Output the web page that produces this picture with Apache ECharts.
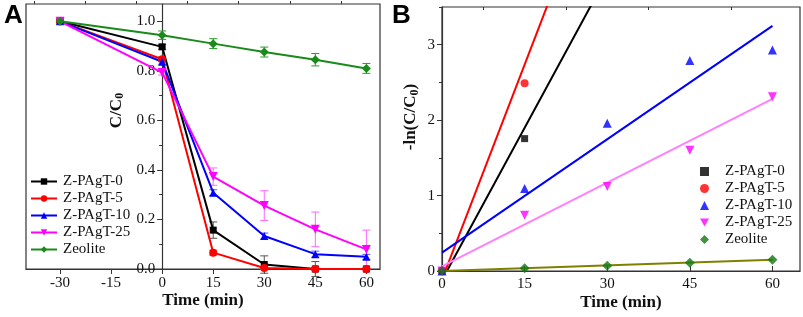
<!DOCTYPE html>
<html>
<head>
<meta charset="utf-8">
<script src="https://cdn.jsdelivr.net/npm/echarts@6/dist/echarts.min.js"></script>
<style>
  html, body { margin: 0; padding: 0; background: #fff; }
  #chart { width: 803px; height: 317px; }
</style>
</head>
<body>
<div id="chart"></div>
<script>
// panel A: C/C0 vs time
const timeA = [-30, 0, 15, 30, 45, 60];
const z0A = [1.0, 0.897, 0.157, 0.018, 0.0, 0.0];
const z5A = [1.0, 0.847, 0.066, 0.004, 0.0, 0.0];
const z10A = [1.0, 0.837, 0.308, 0.133, 0.06, 0.049];
const z25A = [1.0, 0.793, 0.373, 0.256, 0.16, 0.079];
const zeoA = [1.0, 0.944, 0.91, 0.876, 0.845, 0.81];
const z0Err = [0, 0.01, 0.033, 0.035, 0.03, 0];
const z5Err = [0, 0.01, 0.01, 0.005, 0.005, 0];
const z10Err = [0, 0.01, 0.012, 0.012, 0.012, 0.01];
const z25Err = [0, 0.01, 0.035, 0.06, 0.07, 0.078];
const zeoErr = [0.005, 0.017, 0.02, 0.02, 0.025, 0.02];
const xTicksA = [-30, -15, 0, 15, 30, 45, 60];
const xMinorA = [-37.5, -22.5, -7.5, 7.5, 22.5, 37.5, 52.5];
const yTicksA = [0, 0.2, 0.4, 0.6, 0.8, 1.0];
const yMinorA = [0.1, 0.3, 0.5, 0.7, 0.9];

// panel B: -ln(C/C0) vs time, with linear fits
const timeB = [0, 15, 30, 45, 60];
const z0B = [0, 1.755];
const z5B = [0, 2.49];
const z10B = [0, 1.095, 1.96, 2.79, 2.93];
const z25B = [0, 0.74, 1.12, 1.6, 2.31];
const zeoB = [0, 0.035, 0.07, 0.11, 0.15];
const fitSlope = [0.1346, 0.19, 0.0501, 0.037, 0.0025];
const fitIntercept = [-0.121, -0.114, 0.244, 0.062, 0.0];
const fitRange = [0, 60];
const xTicksB = [0, 15, 30, 45, 60];
const xMinorB = [7.5, 22.5, 37.5, 52.5];
const yTicksB = [0, 1, 2, 3];
const yMinorB = [0.5, 1.5, 2.5, 3.5];

const names = ['Z-PAgT-0', 'Z-PAgT-5', 'Z-PAgT-10', 'Z-PAgT-25', 'Zeolite'];
const serif = 'Liberation Serif';
const axisColor = '#333';
const invTri = 'path://M0,0 L10,0 L5,9 Z';

// grid A geometry, the y axis sits at time 0
const gridA = { left: 26, right: 423, top: 4, bottom: 48 };
const xRangeA = [-40, 64];
const widthA = 803 - gridA.left - gridA.right;
const yAxisShiftA = -widthA * (0 - xRangeA[0]) / (xRangeA[1] - xRangeA[0]);

const chart = echarts.init(document.getElementById('chart'));

function pairs(xs, ys) {
  return ys.map((y, i) => [xs[i], y]);
}

// error bars drawn as custom series
function errSeries(ys, errs, color) {
  return {
    type: 'custom',
    xAxisIndex: 0,
    yAxisIndex: 0,
    silent: true,
    z: 1,
    data: timeA.map((t, i) => [t, ys[i] - errs[i], ys[i] + errs[i]]),
    renderItem: function (params, api) {
      const lo = api.coord([api.value(0), api.value(1)]);
      const hi = api.coord([api.value(0), api.value(2)]);
      const w = 4;
      const style = { stroke: color, lineWidth: 1 };
      return {
        type: 'group',
        children: [
          { type: 'line', shape: { x1: hi[0], y1: hi[1], x2: lo[0], y2: lo[1] }, style: style },
          { type: 'line', shape: { x1: hi[0] - w, y1: hi[1], x2: hi[0] + w, y2: hi[1] }, style: style },
          { type: 'line', shape: { x1: lo[0] - w, y1: lo[1], x2: lo[0] + w, y2: lo[1] }, style: style }
        ]
      };
    }
  };
}

function lineA(name, ys, color, symbol, size) {
  return {
    name: name,
    type: 'line',
    xAxisIndex: 0,
    yAxisIndex: 0,
    data: pairs(timeA, ys),
    symbol: symbol,
    symbolSize: size,
    showAllSymbol: true,
    z: 3,
    lineStyle: { color: color, width: 2 },
    itemStyle: { color: color }
  };
}

function scatterB(name, ys, color, symbol, size) {
  return {
    name: 'B:' + name,
    type: 'scatter',
    xAxisIndex: 2,
    yAxisIndex: 2,
    data: pairs(timeB, ys),
    symbol: symbol,
    symbolSize: size,
    z: 3,
    itemStyle: { color: color }
  };
}

function fitB(i, color) {
  const a = fitSlope[i];
  const b = fitIntercept[i];
  return {
    type: 'line',
    xAxisIndex: 2,
    yAxisIndex: 2,
    data: fitRange.map(x => [x, a * x + b]),
    symbol: 'none',
    clip: true,
    silent: true,
    z: 2,
    lineStyle: { color: color, width: 2 }
  };
}

const labelStyle = { fontFamily: serif, fontSize: 15, color: '#111' };
const titleStyle = { fontFamily: serif, fontSize: 17, fontWeight: 'bold', color: '#111' };

const option = {
  animation: false,
  backgroundColor: '#fff',
  grid: [
    { ...gridA, containLabel: false, outerBoundsMode: 'none', show: true, borderColor: axisColor, borderWidth: 1.2 },
    { left: 442, right: 3, top: 7, bottom: 46, containLabel: false, outerBoundsMode: 'none', show: true, borderColor: axisColor, borderWidth: 1.2 }
  ],
  xAxis: [
    {
      type: 'value', gridIndex: 0, min: xRangeA[0], max: xRangeA[1],
      name: 'Time (min)', nameLocation: 'middle', nameGap: 23, nameMoveOverlap: false, nameTextStyle: titleStyle,
      axisLine: { onZero: false, lineStyle: { color: axisColor, width: 1.2 } },
      axisTick: { inside: false, length: 5, customValues: xTicksA, lineStyle: { color: axisColor } },
      axisLabel: { customValues: xTicksA, margin: 7, ...labelStyle },
      splitLine: { show: false }
    },
    {
      type: 'value', gridIndex: 0, min: xRangeA[0], max: xRangeA[1],
      axisLine: { show: false, onZero: false },
      axisTick: { inside: false, length: 3, customValues: xMinorA, lineStyle: { color: axisColor } },
      axisLabel: { show: false },
      splitLine: { show: false }
    },
    {
      type: 'value', gridIndex: 1, min: 0, max: 65,
      name: 'Time (min)', nameLocation: 'middle', nameGap: 23, nameMoveOverlap: false, nameTextStyle: titleStyle,
      axisLine: { onZero: false, lineStyle: { color: axisColor, width: 1.2 } },
      axisTick: { inside: true, length: 5, customValues: xTicksB, lineStyle: { color: axisColor } },
      axisLabel: { customValues: xTicksB, margin: 6, ...labelStyle },
      splitLine: { show: false }
    },
    {
      type: 'value', gridIndex: 1, min: 0, max: 65,
      axisLine: { show: false, onZero: false },
      axisTick: { inside: true, length: 3, customValues: xMinorB, lineStyle: { color: axisColor } },
      axisLabel: { show: false },
      splitLine: { show: false }
    }
  ],
  yAxis: [
    {
      type: 'value', gridIndex: 0, min: 0, max: 1.07, position: 'left', offset: yAxisShiftA,
      name: '{a|C/C}{s|0}', nameLocation: 'middle', nameGap: 36,
      nameTextStyle: {
        padding: [0, 0, 0, 52],
        rich: {
          a: { ...titleStyle },
          s: { fontFamily: serif, fontSize: 12, fontWeight: 'bold', color: '#111', verticalAlign: 'bottom', padding: [8, 0, 0, 0] }
        }
      },
      axisLine: { onZero: false, lineStyle: { color: axisColor, width: 1.2 } },
      axisTick: { inside: false, length: 5, customValues: yTicksA, lineStyle: { color: axisColor } },
      axisLabel: { customValues: yTicksA, margin: 7, formatter: v => v.toFixed(1), ...labelStyle },
      splitLine: { show: false }
    },
    {
      type: 'value', gridIndex: 0, min: 0, max: 1.07, position: 'left', offset: yAxisShiftA,
      axisLine: { show: false, onZero: false },
      axisTick: { inside: false, length: 3, customValues: yMinorA, lineStyle: { color: axisColor } },
      axisLabel: { show: false },
      splitLine: { show: false }
    },
    {
      type: 'value', gridIndex: 1, min: 0, max: 3.5, position: 'left',
      name: '{a|-ln(C/C}{s|0}{a|)}', nameLocation: 'middle', nameGap: 21,
      nameTextStyle: {
        padding: [0, 0, 0, 44],
        rich: {
          a: { ...titleStyle },
          s: { fontFamily: serif, fontSize: 12, fontWeight: 'bold', color: '#111', verticalAlign: 'bottom', padding: [8, 0, 0, 0] }
        }
      },
      axisLine: { onZero: false, lineStyle: { color: axisColor, width: 1.2 } },
      axisTick: { inside: false, length: 5, customValues: yTicksB, lineStyle: { color: axisColor } },
      axisLabel: { customValues: yTicksB, margin: 7, ...labelStyle },
      splitLine: { show: false }
    },
    {
      type: 'value', gridIndex: 1, min: 0, max: 3.5, position: 'left',
      axisLine: { show: false, onZero: false },
      axisTick: { inside: false, length: 3, customValues: yMinorB, lineStyle: { color: axisColor } },
      axisLabel: { show: false },
      splitLine: { show: false }
    }
  ],
  legend: [
    {
      data: names,
      left: 30, top: 174, orient: 'vertical',
      itemWidth: 26, itemHeight: 8, itemGap: 2, padding: 0,
      textStyle: { ...labelStyle, padding: [0, 0, 0, 1] },
      selectedMode: false
    },
    {
      data: names.map(n => 'B:' + n),
      formatter: n => n.replace('B:', ''),
      left: 700, top: 164, orient: 'vertical',
      itemWidth: 9, itemHeight: 9, itemGap: 2, padding: 0,
      textStyle: { ...labelStyle, padding: [0, 0, 0, 11] },
      selectedMode: false
    }
  ],
  graphic: [
    { type: 'text', left: 4, top: 3, style: { text: 'A', font: 'bold 26px "Liberation Sans"', fill: '#000' } },
    { type: 'text', left: 392, top: 3, style: { text: 'B', font: 'bold 26px "Liberation Sans"', fill: '#000' } }
  ],
  series: [
    // error bars (panel A)
    errSeries(z0A, z0Err, '#555'),
    errSeries(z5A, z5Err, '#ff5555'),
    errSeries(z10A, z10Err, '#5555ff'),
    errSeries(z25A, z25Err, '#ff66ff'),
    errSeries(zeoA, zeoErr, '#2a9a2a'),
    // data lines (panel A)
    lineA(names[0], z0A, '#000000', 'rect', 7),
    lineA(names[1], z5A, '#ff0000', 'circle', 8),
    lineA(names[2], z10A, '#0000ff', 'triangle', 8),
    lineA(names[3], z25A, '#ff00ff', invTri, 9),
    lineA(names[4], zeoA, '#1a8a1a', 'diamond', 9),
    // fits (panel B)
    fitB(0, '#000000'),
    fitB(1, '#ff0000'),
    fitB(2, '#0000ff'),
    fitB(3, '#ff80ff'),
    fitB(4, '#808000'),
    // points (panel B)
    scatterB(names[0], z0B, '#000000', 'rect', 7),
    scatterB(names[1], z5B, '#ff0000', 'circle', 8),
    scatterB(names[2], z10B, '#0000ff', 'triangle', 9),
    scatterB(names[3], z25B, '#ff00ff', invTri, 9),
    scatterB(names[4], zeoB, '#117711', 'diamond', 10)
  ]
};

chart.setOption(option);
</script>
</body>
</html>
